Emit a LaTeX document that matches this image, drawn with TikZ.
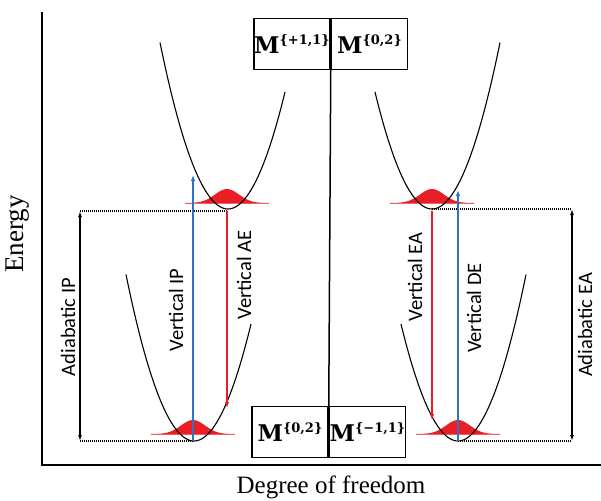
\documentclass[tikz,border=0pt]{standalone}
\usepackage{fontspec}
\setmainfont{Liberation Serif}
\newfontfamily\lblfont{Carlito}
\newfontfamily\boxfont{DejaVu Serif}
\usepackage{tikz}
\usetikzlibrary{positioning,arrows.meta,calc}
\definecolor{vblue}{RGB}{46,114,196}
\definecolor{vred}{RGB}{234,30,37}
\newcommand{\stlabel}[1]{M\raisebox{9.5pt}{\fontsize{13}{13}\selectfont\{#1\}}}

\begin{document}
\begin{tikzpicture}[x=1pt, y=-1pt,
  vlabel/.style={rotate=90, inner sep=0pt, font=\lblfont\fontsize{20.5}{20.5}\selectfont},
  statebox/.style={draw, line width=1.5pt, minimum width=76pt, minimum height=51pt,
    inner sep=0pt, font=\boxfont\bfseries\fontsize{23}{23}\selectfont},
  well/.style={line width=1.1pt},
  guide/.style={line width=1.2pt, dash pattern=on 1pt off 1pt},
  vtip/.style={-{Latex[length=6pt,width=4.5pt]}, line width=1.3pt}]
\useasboundingbox (0,0) rectangle (601,500);
% axes
\draw[line width=1.8pt] (42,12) -- (42,465) -- (601,465);
\node[rotate=90, font=\fontsize{27}{27}\selectfont] (energy) at (18,234) {Energy};
\node[font=\fontsize{25}{25}\selectfont] (dof) at (331,487) {Degree of freedom};
% distributions (under the wells)
\foreach \gx/\gy in {227/203, 193/434, 432/203, 458/434} {
  \fill[vred] plot[domain=-42:42, samples=70, smooth]
    ({\gx+\x},{\gy-14*exp(-((\x/17)*(\x/17)))}) -- cycle;
  \draw[vred!70, line width=0.6pt] (\gx-42,\gy) -- (\gx+42,\gy);
}
% potential wells
\foreach \px/\py/\lo/\hi in {228/209/-68/57, 194/441/-68/57, 432/209/-57/68, 458/441/-57/68}
  \draw[well] plot[domain=\lo:\hi, samples=60, smooth] ({\px+\x},{\py-0.036*(\x)*(\x)});
% state boxes
\node[statebox] (cation) at (292,44) {\stlabel{+1,1}};
\node[statebox, right=0pt of cation] (neutraltop) {\stlabel{0,2}};
\node[statebox] (neutral) at (290,432) {\stlabel{0,2}};
\node[statebox, right=0pt of neutral] (anion) {\stlabel{\textminus1,1}};
\draw[line width=1.5pt] (cation.south east) -- (neutral.north east);
% end points
\coordinate (ipfoot) at (193,441);
\coordinate (iptip) at (193,175);
\coordinate (aetop) at (227,211);
\coordinate (aefoot) at (227,408);
\coordinate (eatop) at (432,211);
\coordinate (eafoot) at (432,420);
\coordinate (defoot) at (458,441);
\coordinate (detip) at (458,190);
\coordinate (aiptop) at (80,211);
\coordinate (aipfoot) at (80,441);
\coordinate (aeatop) at (572,209);
\coordinate (aeafoot) at (572,441);
% dotted guides
\draw[guide] (aiptop) -- (aetop);
\draw[guide] (aipfoot) -- (ipfoot);
\draw[guide] (eatop |- aeatop) -- (aeatop);
\draw[guide] (defoot) -- (aeafoot);
% vertical transitions
\draw[vtip, vblue] (ipfoot) -- (iptip);
\draw[vtip, vred] (aetop) -- (aefoot);
\draw[vtip, vred] (eatop) -- (eafoot);
\draw[vtip, vblue] (defoot) -- (detip);
% adiabatic gaps
\draw[{Latex[length=6pt,width=4pt]}-{Latex[length=6pt,width=4pt]}, line width=1.2pt] (aiptop) -- (aipfoot);
\draw[{Latex[length=6pt,width=4pt]}-{Latex[length=6pt,width=4pt]}, line width=1.2pt] (aeatop) -- (aeafoot);
% labels
\node[vlabel] (aip) at (68,327) {Adiabatic IP};
\node[vlabel] (vip) at (176,310) {Vertical IP};
\node[vlabel] (vae) at (244,275) {Vertical AE};
\node[vlabel] (vea) at (415,277) {Vertical EA};
\node[vlabel] (vde) at (474,308) {Vertical DE};
\node[vlabel] (aea) at (585,325) {Adiabatic EA};
\end{tikzpicture}
\end{document}
